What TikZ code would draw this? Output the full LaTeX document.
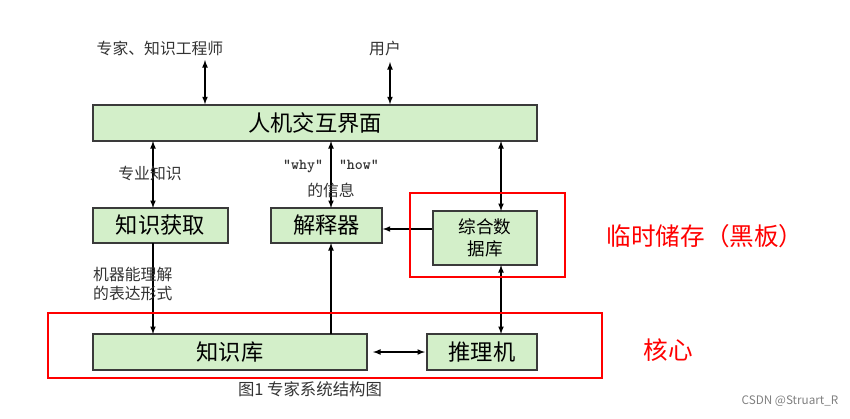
\documentclass[tikz,border=0pt]{standalone}
\usepackage{fontspec}
\setmainfont{Noto Sans CJK SC}
\usetikzlibrary{positioning,calc}
\definecolor{boxgreen}{HTML}{D3EFC9}
\definecolor{boxline}{HTML}{3A3A3A}
\tikzstyle{blk}= [draw=boxline, line width=1.2pt, fill=boxgreen, inner sep=0pt, font=\fontsize{19}{21}\selectfont]
\tikzstyle{lbl}= [inner sep=0pt, font=\fontsize{13.5}{17}\selectfont, text=black!80]
\tikzstyle{arr}= [line width=1.2pt, -latex]
\tikzstyle{darr}= [line width=1.2pt, latex-latex]
\tikzstyle{hl}= [draw=red, line width=2.4pt]

\begin{document}
\begin{tikzpicture}[x=0.03cm, y=-0.03cm]
				\useasboundingbox (0, 0) rectangle (850, 418);
				\node[blk, minimum width=444*0.03cm, minimum height=36*0.03cm] (hmi) at (315, 123) {人机交互界面};
				\node[blk, minimum width=135*0.03cm, minimum height=35*0.03cm] (acq) at (160.5, 225.5) {知识获取};
				\node[blk, minimum width=111*0.03cm, minimum height=35*0.03cm] (exp) at (326.5, 225.5) {解释器};
				\node[blk, minimum width=104*0.03cm, minimum height=54*0.03cm, align=center, font=\fontsize{15}{19}\selectfont] (db) at (485, 238) {综合数\\据库};
				\node[blk, minimum width=274*0.03cm, minimum height=36*0.03cm] (kb) at (230, 352) {知识库};
				\node[blk, minimum width=110*0.03cm, minimum height=36*0.03cm] (inf) at (482, 352) {推理机};
				% outside parties
				\node[lbl] (expert) at (160, 48) {专家、知识工程师};
				\node[lbl] (user) at (385, 48) {用户};
				\coordinate (ex) at (205, 60);
				\coordinate (us) at (390, 62);
				\draw[darr] (ex) -- (ex |- hmi.north);
				\draw[darr] (us) -- (us |- hmi.north);
				% middle row
				\draw[darr] (153, 141) -- (153, 208);
				\draw[darr] (331, 141) -- (331, 208);
				\draw[darr] (501, 141) -- (501, 211);
				\draw[arr] (db.west |- 0, 229) -- (exp.east |- 0, 229);
				\node[lbl] (spec) at (150, 173) {专业知识};
				\node[lbl, font=\fontsize{13}{15}\ttfamily\bfseries] (wh) at (331, 166) {“why” \ “how”};
				\node[lbl] (info) at (331, 190) {的信息};
				% lower row
				\draw[arr] (153, 243) -- (153, 334);
				\draw[arr] (331, 334) -- (331, 243);
				\draw[darr] (501, 265) -- (501, 334);
				\draw[darr] (373, 352) -- (425, 352);
				\node[lbl, align=left, anchor=west] (form) at (93, 284) {机器能理解\\的表达形式};
				\node[lbl, font=\fontsize{14}{15}\selectfont] (cap) at (310, 389) {图1 专家系统结构图};
				% highlights
				\draw[hl] (410, 193) rectangle (565, 277);
				\draw[hl] (48, 313) rectangle (602, 378);
				\node[inner sep=0pt, text=red, font=\fontsize{21}{24}\selectfont] (tmp) at (705, 236) {临时储存（黑板）};
				\node[inner sep=0pt, text=red, font=\fontsize{21}{24}\selectfont] (core) at (668, 350) {核心};
				\node[inner sep=0pt, text=gray, font=\fontsize{10}{12}\selectfont] (mark) at (790, 401) {CSDN @Struart\_R};
			\end{tikzpicture}
\end{document}
